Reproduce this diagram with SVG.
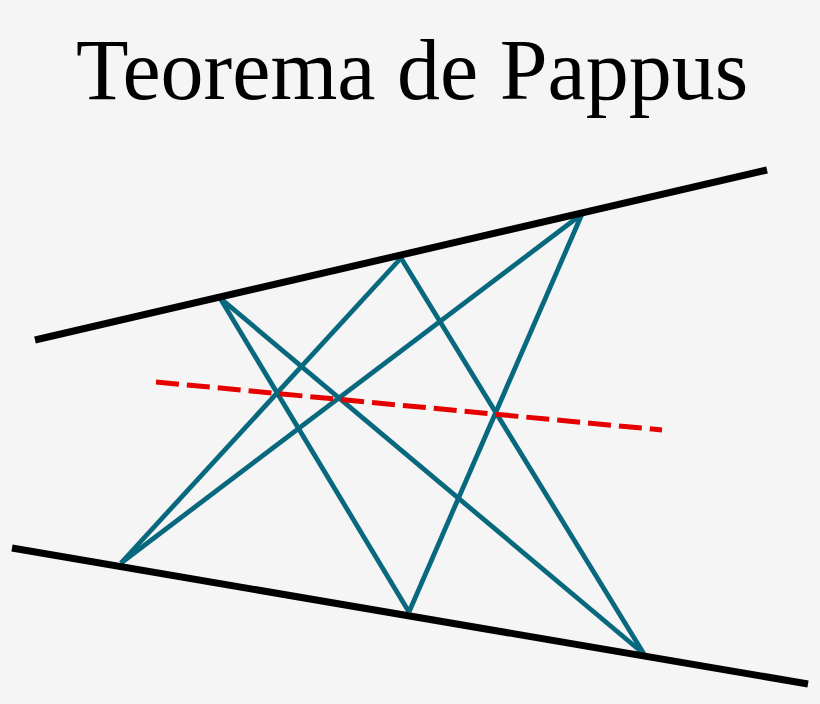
<svg xmlns="http://www.w3.org/2000/svg" width="820" height="704" viewBox="0 0 820 704">
<style>
.axis{stroke:#000;stroke-width:7;stroke-linecap:butt}
.cross{stroke:#08687d;stroke-width:4.8;stroke-linecap:butt}
.pascal{stroke:#e60000;stroke-width:5;stroke-dasharray:23 8}
.title{font-family:"Liberation Serif","Times New Roman",serif;font-size:86px;fill:#000}
</style>
<rect width="820" height="704" fill="#f5f5f5"/>
<text id="title" class="title" x="412" y="99" text-anchor="middle">Teorema de Pappus</text>
<g id="connectors">
<line class="cross" x1="220" y1="298" x2="409" y2="612"/>
<line class="cross" x1="220" y1="298" x2="644" y2="654"/>
<line class="cross" x1="401" y1="258" x2="121" y2="563"/>
<line class="cross" x1="401" y1="258" x2="644" y2="654"/>
<line class="cross" x1="582" y1="214" x2="121" y2="563"/>
<line class="cross" x1="582" y1="214" x2="409" y2="612"/>
<line class="pascal" x1="156" y1="382" x2="662" y2="430"/>
</g>
<g id="line-top"><line class="axis" x1="35" y1="340" x2="767" y2="170"/></g>
<g id="line-bottom"><line class="axis" x1="12" y1="548" x2="808" y2="684"/></g>
</svg>
